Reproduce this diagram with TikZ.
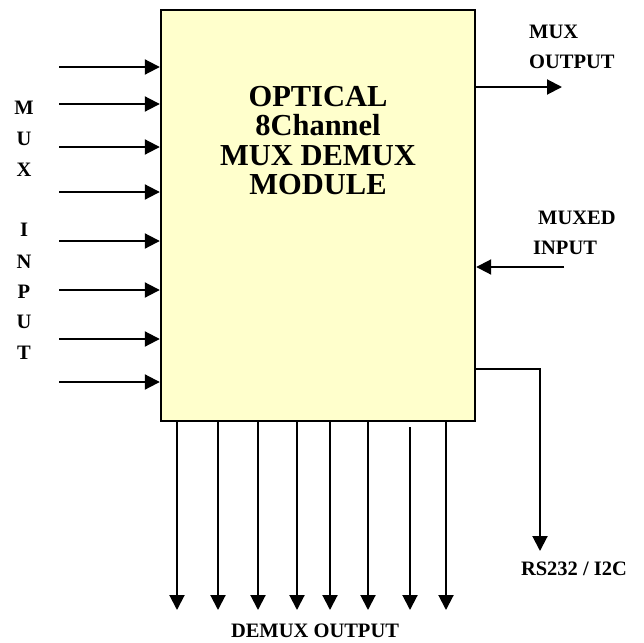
\documentclass[tikz,border=0pt]{standalone}
\usepackage{fontspec}
\setmainfont{Liberation Serif}
\definecolor{paleyellow}{RGB}{255,255,204}
\usetikzlibrary{arrows.meta, positioning}

\begin{document}
\begin{tikzpicture}[
  x=1pt, y=-1pt,
  arrow/.style={-{Triangle[length=15pt, width=15pt]}, line width=2pt, black},
  modbox/.style={draw, line width=2.4pt, fill=paleyellow, minimum width=314pt,
                 minimum height=411pt, inner sep=0pt},
  lbl/.style={font=\fontsize{20.5}{24}\selectfont\bfseries, inner sep=0pt},
  title/.style={font=\fontsize{30.5}{29.5}\selectfont\bfseries, align=center, inner sep=0pt},
]
\useasboundingbox (0,0) rectangle (644,642);
\node[modbox] (mod) at (318,215.5) {};
\node[title, anchor=north] (name) at (318,86) {OPTICAL\\8Channel\\MUX DEMUX\\MODULE};
% inputs
\foreach \y [count=\i] in {67,104,147,192,241,290,339,382} {
  \coordinate (in\i) at (59,\y);
  \draw[arrow] (in\i) -- (in\i -| mod.west);
}
\foreach \y/\c [count=\i] in {108/M,139/U,170/X,230/I,262/N,292/P,322/U,353/T}
  \node[lbl] (ch\i) at (24,\y) {\c};
% outputs
\foreach \x/\s [count=\i] in {177/0,218/0,258/0,297/0,330/0,368/0,410/5,446/0} {
  \coordinate (out\i) at (\x,610);
  \draw[arrow] ([yshift=-\s pt]out\i |- mod.south) -- (out\i);
}
\node[lbl, anchor=base] (demux) at (315,637) {DEMUX OUTPUT};
\coordinate (muxout) at (562,87);
\draw[arrow] (muxout -| mod.east) -- (muxout);
\node[lbl, anchor=base west] (muxa) at (529,38) {MUX};
\node[lbl, anchor=base west] (muxb) at (529,68) {OUTPUT};
\coordinate (muxin) at (564,267);
\draw[arrow] (muxin) -- (muxin -| mod.east);
\node[lbl, anchor=base west] (mxda) at (538,224) {MUXED};
\node[lbl, anchor=base west] (mxdb) at (533,254) {INPUT};
\coordinate (ctlbend) at (540,369);
\coordinate (ctl) at (540,551);
\draw[arrow] (ctlbend -| mod.east) -- (ctlbend) -- (ctl);
\node[lbl, anchor=base] (ctlname) at (574,575) {RS232 / I2C};
\end{tikzpicture}
\end{document}
